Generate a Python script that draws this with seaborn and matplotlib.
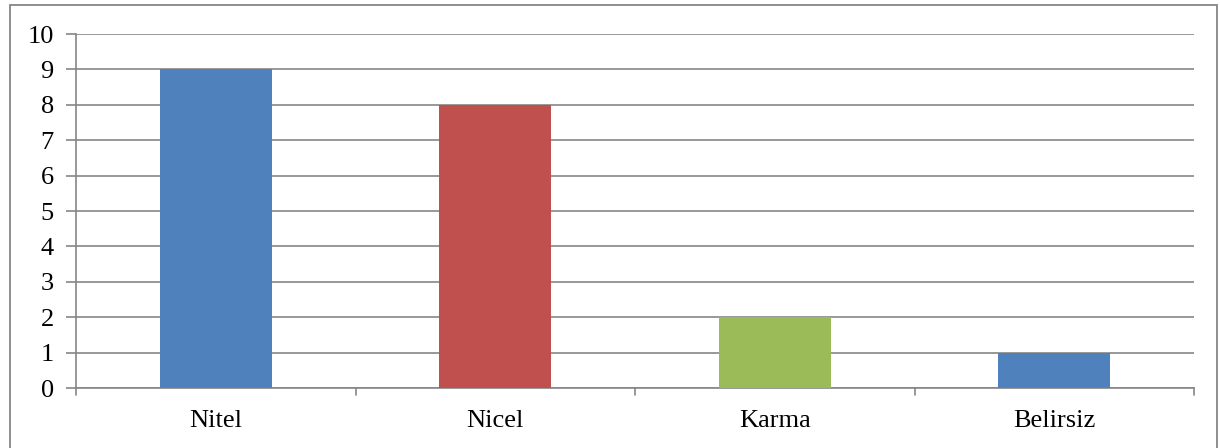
import matplotlib
matplotlib.use("Agg")
import matplotlib.pyplot as plt
import seaborn as sns
import pandas as pd
from matplotlib.patches import Rectangle

categories = ["Nitel", "Nicel", "Karma", "Belirsiz"]
values = [9, 8, 2, 1]
colors = ["#4F81BD", "#C0504D", "#9BBB59", "#4F81BD"]
yticks = list(range(0, 11))

sns.set_theme(style="white")
plt.rcParams["font.family"] = ["Liberation Serif", "DejaVu Serif"]
plt.rcParams["text.color"] = "black"
plt.rcParams["xtick.color"] = "black"
plt.rcParams["ytick.color"] = "black"

df = pd.DataFrame({"cat": categories, "val": values})

fig = plt.figure(figsize=(12.2, 4.48), dpi=100)
ax = fig.add_axes([76 / 1220, 1 - 388 / 448, (1194 - 76) / 1220, (388 - 34) / 448])

sns.barplot(data=df, x="cat", y="val", hue="cat", palette=colors, width=0.4,
            legend=False, ax=ax, saturation=1, zorder=3, edgecolor="none", linewidth=0)

ax.set_ylim(0, 10)
ax.set_xlim(-0.5, len(categories) - 0.5)
ax.set_yticks(yticks)
ax.set_yticklabels([str(t) for t in yticks], fontsize=19, color="black")
ax.set_xticks(range(len(categories)))
ax.set_xticklabels(categories, fontsize=19, color="black")
ax.set_xlabel("")
ax.set_ylabel("")

grid_c = "#868686"
for t in yticks:
    ax.axhline(t, color=grid_c, lw=1.2, zorder=1)
ax.tick_params(axis="y", which="both", length=7, width=1.2, color=grid_c, pad=9, left=True,
               labelcolor="black")
ax.tick_params(axis="x", which="both", length=0, pad=16, labelcolor="black")
for b in [-0.5, 0.5, 1.5, 2.5, 3.5]:
    ax.plot([b, b], [0, -0.2], color=grid_c, lw=1.2, clip_on=False, zorder=1)

for s in ["top", "right"]:
    ax.spines[s].set_visible(False)
ax.spines["left"].set_color(grid_c)
ax.spines["left"].set_linewidth(1.2)
ax.spines["bottom"].set_color(grid_c)
ax.spines["bottom"].set_linewidth(1.2)

fig.patches.append(Rectangle((9.5 / 1220, -0.05), (1217 - 9.5) / 1220, 1 - 5.5 / 448 + 0.05,
                             transform=fig.transFigure, fill=False,
                             edgecolor="#868686", lw=1.3))

fig.savefig("out.png", dpi=100)
